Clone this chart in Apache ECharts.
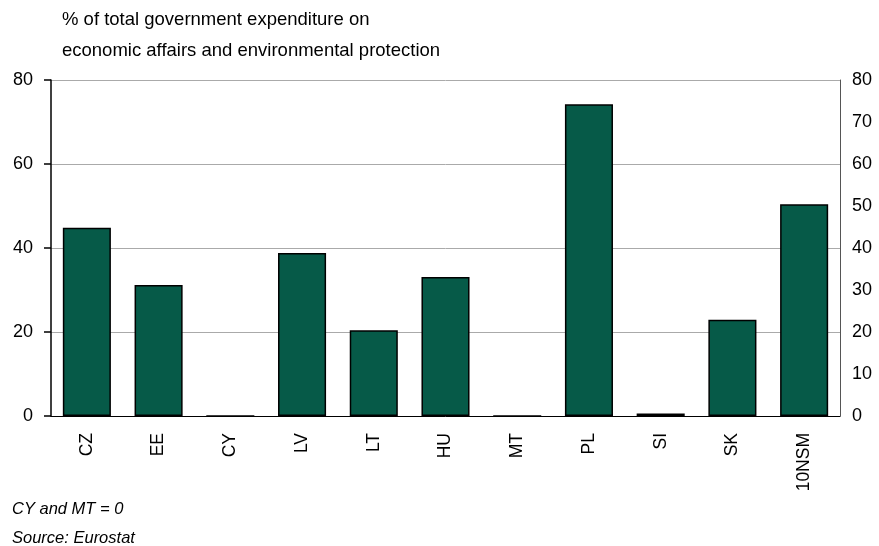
<!DOCTYPE html>
<html>
<head>
<meta charset="utf-8">
<script src="https://cdn.jsdelivr.net/npm/echarts@6/dist/echarts.min.js"></script>
<style>html,body{margin:0;padding:0;background:#fff}#c{width:879px;height:546px}</style>
</head>
<body>
<div id="c"></div>
<script>
const categories = ['CZ','EE','CY','LV','LT','HU','MT','PL','SI','SK','10NSM'];
const values = [44.8, 31.2, 0, 38.8, 20.4, 33.1, 0, 74.2, 0.6, 22.9, 50.4];
const leftTicks = [0, 20, 40, 60, 80];
const rightTicks = [0, 10, 20, 30, 40, 50, 60, 70, 80];
const titleLines = ['% of total government expenditure on', 'economic affairs and environmental protection'];
const notes = ['CY and MT = 0', 'Source: Eurostat'];

const font = 'Liberation Sans, Arial, sans-serif';
const chart = echarts.init(document.getElementById('c'), null, {renderer: 'canvas'});
chart.setOption({
  animation: false,
  backgroundColor: '#fff',
  grid: {left: 51, right: 39, top: 80, bottom: 130},
  title: {
    text: titleLines.join('\n'),
    left: 57, top: -1,
    textStyle: {fontFamily: font, fontSize: 18.5, fontWeight: 'normal', color: '#000', lineHeight: 31}
  },
  graphic: [
    {type: 'text', left: 12, top: 501, style: {text: notes[0], fontFamily: font, fontSize: 16.5, fontStyle: 'italic', fill: '#000'}},
    {type: 'text', left: 12, top: 530, style: {text: notes[1], fontFamily: font, fontSize: 16.5, fontStyle: 'italic', fill: '#000'}}
  ],
  xAxis: {
    type: 'category',
    data: categories,
    axisLine: {show: true, lineStyle: {color: '#000', width: 1}},
    axisTick: {show: false},
    axisLabel: {rotate: 90, margin: 17, fontFamily: font, fontSize: 17.5, color: '#000'}
  },
  yAxis: [
    {
      type: 'value', min: leftTicks[0], max: leftTicks[leftTicks.length-1], interval: leftTicks[1]-leftTicks[0],
      position: 'left',
      axisLine: {show: true, lineStyle: {color: '#000', width: 1.5}},
      axisTick: {show: true, inside: false, length: 7, lineStyle: {color: '#000', width: 1.5}},
      axisLabel: {margin: 18, fontFamily: font, fontSize: 18, color: '#000'},
      splitLine: {show: true, lineStyle: {color: '#aaa', width: 1}}
    },
    {
      type: 'value', min: rightTicks[0], max: rightTicks[rightTicks.length-1], interval: rightTicks[1]-rightTicks[0],
      position: 'right',
      axisLine: {show: true, lineStyle: {color: '#555', width: 1}},
      axisTick: {show: false},
      axisLabel: {margin: 12, fontFamily: font, fontSize: 18, color: '#000'},
      splitLine: {show: false}
    }
  ],
  series: [{
    type: 'bar',
    yAxisIndex: 0,
    data: values,
    barCategoryGap: '33%',
    itemStyle: {color: '#065A48', borderColor: '#000', borderWidth: 1.5}
  }]
});
</script>
</body>
</html>
